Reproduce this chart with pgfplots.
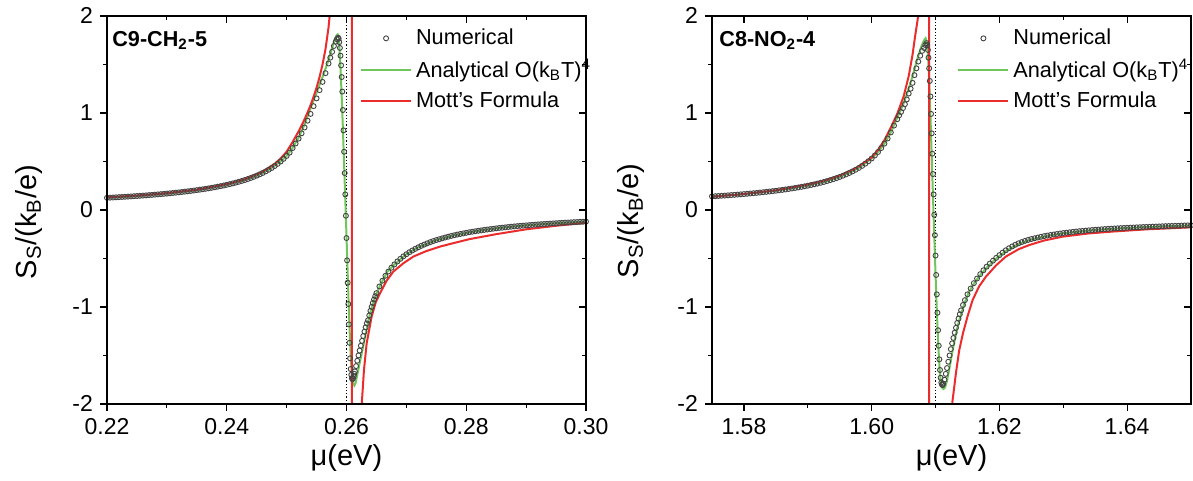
\documentclass[border=0pt]{standalone}
\usepackage{fontspec}
\setmainfont{Liberation Sans}
\usepackage{pgfplots}
\usepackage{pgfplotstable}
\pgfplotsset{compat=1.18}

\definecolor{numgray}{RGB}{68,68,68}
\definecolor{anagreen}{RGB}{112,198,92}
\definecolor{mottred}{RGB}{234,44,44}

% C9-CH2-5: numerical, analytical O(kT)^4, Mott
\pgfplotstableread[row sep=\\]{
x y\\
0.2200 0.1250\\ 0.2205 0.1266\\ 0.2210 0.1283\\ 0.2215 0.1300\\ 0.2220 0.1318\\
0.2225 0.1336\\ 0.2230 0.1355\\ 0.2235 0.1374\\ 0.2240 0.1394\\ 0.2245 0.1415\\
0.2250 0.1436\\ 0.2255 0.1457\\ 0.2260 0.1480\\ 0.2265 0.1502\\ 0.2270 0.1526\\
0.2275 0.1551\\ 0.2280 0.1576\\ 0.2285 0.1602\\ 0.2290 0.1629\\ 0.2295 0.1657\\
0.2300 0.1686\\ 0.2305 0.1716\\ 0.2310 0.1747\\ 0.2315 0.1779\\ 0.2320 0.1812\\
0.2325 0.1847\\ 0.2330 0.1883\\ 0.2335 0.1920\\ 0.2340 0.1959\\ 0.2345 0.2000\\
0.2350 0.2042\\ 0.2355 0.2086\\ 0.2360 0.2132\\ 0.2365 0.2180\\ 0.2370 0.2230\\
0.2375 0.2283\\ 0.2380 0.2338\\ 0.2385 0.2396\\ 0.2390 0.2457\\ 0.2395 0.2521\\
0.2400 0.2588\\ 0.2405 0.2659\\ 0.2410 0.2735\\ 0.2415 0.2814\\ 0.2420 0.2899\\
0.2425 0.2988\\ 0.2430 0.3084\\ 0.2435 0.3185\\ 0.2440 0.3294\\ 0.2445 0.3410\\
0.2450 0.3534\\ 0.2455 0.3668\\ 0.2460 0.3813\\ 0.2465 0.3970\\ 0.2470 0.4140\\
0.2475 0.4325\\ 0.2480 0.4527\\ 0.2485 0.4750\\ 0.2490 0.4995\\ 0.2495 0.5267\\
0.2500 0.5570\\ 0.2505 0.5911\\ 0.2510 0.6380\\ 0.2515 0.6850\\ 0.2520 0.7350\\
0.2525 0.7900\\ 0.2530 0.8500\\ 0.2535 0.9200\\ 0.2540 0.9900\\ 0.2545 1.0700\\
0.2550 1.1500\\ 0.2555 1.2350\\ 0.2560 1.3200\\ 0.2565 1.4100\\ 0.2570 1.5100\\
0.2573 1.5700\\ 0.2576 1.6300\\ 0.2579 1.6900\\ 0.2582 1.7350\\ 0.2584 1.7600\\
0.2586 1.7750\\ 0.2587 1.7650\\ 0.2588 1.7300\\ 0.2589 1.6700\\ 0.2590 1.5900\\
0.2591 1.4900\\ 0.2592 1.3700\\ 0.2593 1.2200\\ 0.2594 1.0300\\ 0.2595 0.8200\\
0.2596 0.6000\\ 0.2597 0.3800\\ 0.2598 0.1600\\ 0.2599 -0.0600\\ 0.2600 -0.2900\\
0.2601 -0.5200\\ 0.2602 -0.7500\\ 0.2603 -0.9700\\ 0.2604 -1.1800\\ 0.2605 -1.3700\\
0.2606 -1.5300\\ 0.2607 -1.6400\\ 0.2608 -1.7000\\ 0.2609 -1.7350\\ 0.2610 -1.7450\\
0.2611 -1.7350\\ 0.2612 -1.7150\\ 0.2613 -1.6900\\ 0.2614 -1.6650\\ 0.2616 -1.6100\\
0.2618 -1.5550\\ 0.2620 -1.5000\\ 0.2622 -1.4500\\ 0.2624 -1.4000\\ 0.2626 -1.3500\\
0.2628 -1.3000\\ 0.2630 -1.2550\\ 0.2632 -1.2100\\ 0.2634 -1.1700\\ 0.2636 -1.1380\\
0.2638 -1.0880\\ 0.2640 -1.0410\\ 0.2642 -0.9990\\ 0.2644 -0.9590\\ 0.2646 -0.9230\\
0.2648 -0.8890\\ 0.2650 -0.8580\\ 0.2655 -0.7890\\ 0.2660 -0.7300\\ 0.2665 -0.6790\\
0.2670 -0.6350\\ 0.2675 -0.5960\\ 0.2680 -0.5620\\ 0.2685 -0.5310\\ 0.2690 -0.5040\\
0.2695 -0.4790\\ 0.2700 -0.4570\\ 0.2705 -0.4360\\ 0.2710 -0.4180\\ 0.2715 -0.4010\\
0.2720 -0.3850\\ 0.2725 -0.3700\\ 0.2730 -0.3570\\ 0.2735 -0.3440\\ 0.2740 -0.3320\\
0.2745 -0.3210\\ 0.2750 -0.3110\\ 0.2755 -0.3020\\ 0.2760 -0.2930\\ 0.2765 -0.2840\\
0.2770 -0.2760\\ 0.2775 -0.2680\\ 0.2780 -0.2610\\ 0.2785 -0.2540\\ 0.2790 -0.2480\\
0.2795 -0.2420\\ 0.2800 -0.2360\\ 0.2805 -0.2300\\ 0.2810 -0.2250\\ 0.2815 -0.2200\\
0.2820 -0.2150\\ 0.2825 -0.2110\\ 0.2830 -0.2060\\ 0.2835 -0.2020\\ 0.2840 -0.1980\\
0.2845 -0.1940\\ 0.2850 -0.1900\\ 0.2855 -0.1860\\ 0.2860 -0.1830\\ 0.2865 -0.1800\\
0.2870 -0.1760\\ 0.2875 -0.1730\\ 0.2880 -0.1700\\ 0.2885 -0.1670\\ 0.2890 -0.1640\\
0.2895 -0.1620\\ 0.2900 -0.1590\\ 0.2905 -0.1570\\ 0.2910 -0.1540\\ 0.2915 -0.1520\\
0.2920 -0.1490\\ 0.2925 -0.1470\\ 0.2930 -0.1450\\ 0.2935 -0.1430\\ 0.2940 -0.1410\\
0.2945 -0.1390\\ 0.2950 -0.1370\\ 0.2955 -0.1350\\ 0.2960 -0.1330\\ 0.2965 -0.1310\\
0.2970 -0.1300\\ 0.2975 -0.1280\\ 0.2980 -0.1260\\ 0.2985 -0.1250\\ 0.2990 -0.1230\\
0.2995 -0.1220\\ 0.3000 -0.1200\\
}\numA

\pgfplotstableread[row sep=\\]{
x y\\
0.2200 0.125\\ 0.2250 0.1436\\ 0.2300 0.1686\\ 0.2350 0.2042\\ 0.2400 0.2588\\
0.2430 0.3084\\ 0.2450 0.3534\\ 0.2470 0.4140\\ 0.2490 0.4995\\ 0.2500 0.557\\
0.2510 0.640\\ 0.2520 0.745\\ 0.2530 0.88\\ 0.2540 1.05\\ 0.2550 1.21\\
0.2560 1.37\\ 0.2568 1.51\\ 0.2574 1.63\\ 0.2579 1.73\\ 0.2583 1.795\\
0.25853 1.81\\ 0.2587 1.78\\ 0.2588 1.70\\ 0.2590 1.46\\ 0.2592 1.17\\
0.2594 0.84\\ 0.2596 0.47\\ 0.25986 0.00\\ 0.2601 -0.46\\ 0.2603 -0.85\\
0.2605 -1.20\\ 0.2607 -1.50\\ 0.2609 -1.69\\ 0.2611 -1.785\\ 0.26131 -1.81\\
0.2615 -1.79\\ 0.2617 -1.73\\ 0.26197 -1.65\\ 0.2624 -1.52\\ 0.26281 -1.40\\
0.2633 -1.25\\ 0.26392 -1.07\\ 0.2646 -0.93\\ 0.2656 -0.78\\ 0.2668 -0.64\\
0.2680 -0.562\\ 0.2700 -0.457\\ 0.2720 -0.385\\ 0.2750 -0.311\\ 0.2780 -0.261\\
0.2820 -0.215\\ 0.2860 -0.183\\ 0.2900 -0.159\\ 0.2950 -0.137\\ 0.3000 -0.120\\
}\anaA

\pgfplotstableread[row sep=\\]{
x y\\
0.2200 0.130\\ 0.2250 0.148\\ 0.2300 0.173\\ 0.2350 0.209\\ 0.2400 0.266\\
0.2430 0.316\\ 0.2460 0.395\\ 0.2480 0.475\\ 0.2490 0.530\\ 0.2500 0.600\\
0.2510 0.700\\ 0.2520 0.810\\ 0.2525 0.870\\ 0.2530 0.935\\ 0.2535 1.005\\
0.2540 1.080\\ 0.2545 1.165\\ 0.2550 1.260\\ 0.2555 1.370\\ 0.2560 1.500\\
0.2565 1.660\\ 0.2570 1.880\\ 0.2575 2.200\\ 0.2580 2.700\\ 0.2590 3.800\\
0.2600 7.000\\ 0.2605 14.00\\ 0.26089 60.0\\ 0.26091 -60.0\\ 0.2612 -8.0\\
0.2618 -3.5\\ 0.26255 -2.00\\ 0.26292 -1.65\\ 0.26337 -1.375\\ 0.2642 -1.10\\
0.2649 -0.95\\ 0.2656 -0.859\\ 0.2667 -0.73\\ 0.26782 -0.636\\ 0.2695 -0.55\\
0.27116 -0.481\\ 0.2733 -0.425\\ 0.27562 -0.378\\ 0.2780 -0.340\\ 0.28063 -0.300\\
0.2850 -0.250\\ 0.2900 -0.200\\ 0.2950 -0.163\\ 0.3000 -0.133\\
}\mottA

% C8-NO2-4
\pgfplotstableread[row sep=\\]{
x y\\
1.5750 0.1397\\ 1.5755 0.1418\\ 1.5760 0.1439\\ 1.5765 0.1462\\ 1.5770 0.1484\\
1.5775 0.1508\\ 1.5780 0.1532\\ 1.5785 0.1558\\ 1.5790 0.1584\\ 1.5795 0.1611\\
1.5800 0.1638\\ 1.5805 0.1667\\ 1.5810 0.1697\\ 1.5815 0.1728\\ 1.5820 0.1760\\
1.5825 0.1793\\ 1.5830 0.1828\\ 1.5835 0.1864\\ 1.5840 0.1901\\ 1.5845 0.1940\\
1.5850 0.1981\\ 1.5855 0.2023\\ 1.5860 0.2067\\ 1.5865 0.2113\\ 1.5870 0.2161\\
1.5875 0.2212\\ 1.5880 0.2265\\ 1.5885 0.2320\\ 1.5890 0.2378\\ 1.5895 0.2440\\
1.5900 0.2504\\ 1.5905 0.2572\\ 1.5910 0.2644\\ 1.5915 0.2719\\ 1.5920 0.2800\\
1.5925 0.2885\\ 1.5930 0.2976\\ 1.5935 0.3072\\ 1.5940 0.3175\\ 1.5945 0.3285\\
1.5950 0.3403\\ 1.5955 0.3529\\ 1.5960 0.3666\\ 1.5965 0.3813\\ 1.5970 0.3973\\
1.5975 0.4147\\ 1.5980 0.4337\\ 1.5985 0.4545\\ 1.5990 0.4773\\ 1.5995 0.5027\\
1.6000 0.5308\\ 1.6005 0.5623\\ 1.6010 0.5977\\ 1.6015 0.6380\\ 1.6020 0.6840\\
1.6025 0.7372\\ 1.6030 0.7993\\ 1.6035 0.8700\\ 1.6040 0.9350\\ 1.6043 0.9750\\
1.6046 1.0100\\ 1.6049 1.0500\\ 1.6052 1.0900\\ 1.6055 1.1400\\ 1.6058 1.2000\\
1.6061 1.2500\\ 1.6064 1.3100\\ 1.6067 1.3900\\ 1.6070 1.4600\\ 1.6073 1.5300\\
1.6076 1.5900\\ 1.6079 1.6400\\ 1.6082 1.6700\\ 1.6084 1.7000\\ 1.6086 1.7200\\
1.6087 1.7000\\ 1.6088 1.6500\\ 1.6089 1.5700\\ 1.6090 1.4600\\ 1.6091 1.3300\\
1.6092 1.1700\\ 1.6093 0.9900\\ 1.6094 0.7900\\ 1.6095 0.5800\\ 1.6096 0.3700\\
1.6097 0.1600\\ 1.6098 -0.0500\\ 1.6099 -0.2600\\ 1.6100 -0.4700\\ 1.6101 -0.6700\\
1.6102 -0.8700\\ 1.6103 -1.0600\\ 1.6104 -1.2400\\ 1.6105 -1.4000\\ 1.6106 -1.5400\\
1.6107 -1.6500\\ 1.6108 -1.7300\\ 1.6109 -1.7800\\ 1.6110 -1.8000\\ 1.6111 -1.8050\\
1.6112 -1.7900\\ 1.6114 -1.7500\\ 1.6116 -1.6900\\ 1.6118 -1.6300\\ 1.6120 -1.5650\\
1.6122 -1.5000\\ 1.6124 -1.4350\\ 1.6126 -1.3750\\ 1.6128 -1.3200\\ 1.6130 -1.2650\\
1.6132 -1.2150\\ 1.6134 -1.1650\\ 1.6136 -1.1200\\ 1.6138 -1.0750\\ 1.6140 -1.0350\\
1.6143 -0.9800\\ 1.6146 -0.9300\\ 1.6150 -0.8700\\ 1.6155 -0.8100\\ 1.6160 -0.7550\\
1.6165 -0.7070\\ 1.6170 -0.6620\\ 1.6175 -0.6220\\ 1.6180 -0.5850\\ 1.6185 -0.5530\\
1.6190 -0.5230\\ 1.6195 -0.4940\\ 1.6200 -0.4660\\ 1.6205 -0.4400\\ 1.6210 -0.4160\\
1.6215 -0.3950\\ 1.6220 -0.3760\\ 1.6225 -0.3590\\ 1.6230 -0.3440\\ 1.6235 -0.3310\\
1.6240 -0.3190\\ 1.6245 -0.3090\\ 1.6250 -0.3000\\ 1.6255 -0.2920\\ 1.6260 -0.2840\\
1.6265 -0.2770\\ 1.6270 -0.2700\\ 1.6275 -0.2640\\ 1.6280 -0.2580\\ 1.6285 -0.2530\\
1.6290 -0.2480\\ 1.6295 -0.2430\\ 1.6300 -0.2380\\ 1.6305 -0.2340\\ 1.6310 -0.2300\\
1.6315 -0.2260\\ 1.6320 -0.2220\\ 1.6325 -0.2190\\ 1.6330 -0.2160\\ 1.6335 -0.2130\\
1.6340 -0.2100\\ 1.6345 -0.2070\\ 1.6350 -0.2040\\ 1.6355 -0.2020\\ 1.6360 -0.1990\\
1.6365 -0.1970\\ 1.6370 -0.1950\\ 1.6375 -0.1930\\ 1.6380 -0.1910\\ 1.6385 -0.1890\\
1.6390 -0.1870\\ 1.6395 -0.1860\\ 1.6400 -0.1840\\ 1.6405 -0.1820\\ 1.6410 -0.1810\\
1.6415 -0.1790\\ 1.6420 -0.1780\\ 1.6425 -0.1760\\ 1.6430 -0.1750\\ 1.6435 -0.1740\\
1.6440 -0.1720\\ 1.6445 -0.1710\\ 1.6450 -0.1700\\ 1.6455 -0.1680\\ 1.6460 -0.1670\\
1.6465 -0.1660\\ 1.6470 -0.1650\\ 1.6475 -0.1640\\ 1.6480 -0.1630\\ 1.6485 -0.1610\\
1.6490 -0.1600\\ 1.6495 -0.1590\\ 1.6500 -0.1580\\
}\numB

\pgfplotstableread[row sep=\\]{
x y\\
1.5750 0.1397\\ 1.5800 0.1638\\ 1.5850 0.1981\\ 1.5900 0.2504\\ 1.5930 0.2976\\
1.5960 0.3666\\ 1.5980 0.4337\\ 1.6000 0.5308\\ 1.6010 0.5977\\ 1.6020 0.684\\
1.6030 0.80\\ 1.6040 0.95\\ 1.6050 1.10\\ 1.6058 1.25\\ 1.6065 1.40\\
1.6072 1.57\\ 1.6078 1.69\\ 1.6082 1.75\\ 1.60844 1.77\\ 1.6086 1.74\\
1.6088 1.62\\ 1.6090 1.35\\ 1.6092 0.98\\ 1.6094 0.56\\ 1.6096 0.14\\
1.6098 -0.26\\ 1.6100 -0.66\\ 1.6102 -1.03\\ 1.6104 -1.36\\ 1.6106 -1.60\\
1.6108 -1.76\\ 1.6110 -1.83\\ 1.61125 -1.845\\ 1.6115 -1.83\\ 1.6118 -1.76\\
1.6121 -1.66\\ 1.6124 -1.55\\ 1.6127 -1.44\\ 1.6131 -1.31\\ 1.6135 -1.19\\
1.6140 -1.07\\ 1.6146 -0.95\\ 1.6152 -0.85\\ 1.6160 -0.76\\ 1.6170 -0.67\\
1.6180 -0.595\\ 1.6195 -0.50\\ 1.6210 -0.425\\ 1.6230 -0.35\\ 1.6250 -0.305\\
1.6280 -0.262\\ 1.6300 -0.240\\ 1.6350 -0.206\\ 1.6400 -0.186\\ 1.6450 -0.171\\
1.6500 -0.159\\
}\anaB

\pgfplotstableread[row sep=\\]{
x y\\
1.5750 0.135\\ 1.5800 0.165\\ 1.5850 0.203\\ 1.5900 0.262\\ 1.5925 0.300\\
1.5950 0.355\\ 1.5975 0.430\\ 1.6000 0.540\\ 1.6010 0.620\\ 1.6020 0.720\\
1.6030 0.850\\ 1.6040 0.990\\ 1.6050 1.170\\ 1.6058 1.380\\ 1.6064 1.600\\
1.6068 1.790\\ 1.6074 2.050\\ 1.6080 2.700\\ 1.6085 3.800\\ 1.6088 6.000\\
1.60895 40.0\\ 1.60905 -40.0\\ 1.6095 -8.0\\ 1.6105 -3.8\\ 1.6115 -2.6\\
1.6126 -2.0\\ 1.6132 -1.68\\ 1.6137 -1.45\\ 1.6143 -1.27\\ 1.6150 -1.10\\
1.6158 -0.93\\ 1.6168 -0.79\\ 1.6179 -0.687\\ 1.6195 -0.570\\ 1.6210 -0.481\\
1.6230 -0.405\\ 1.6247 -0.361\\ 1.6270 -0.315\\ 1.6299 -0.275\\ 1.6340 -0.242\\
1.6377 -0.223\\ 1.6430 -0.200\\ 1.6500 -0.179\\
}\mottB

\pgfplotsset{
  panel/.style={
    scale only axis, width=239.5pt, height=194pt,
    ymin=-2, ymax=2,
    ytick={-2,-1,0,1,2},
    minor x tick num=1, minor y tick num=1,
    major tick length=3.5pt, minor tick length=2pt,
    tick style={black, line width=0.6pt},
    axis line style={line width=0.7pt},
  },
  main/.style={
    panel,
    yticklabels={-2,-1,0,1,2},
    tick align=outside, tick pos=left,
    tick label style={font=\fontsize{11.5}{13}\selectfont},
    label style={font=\fontsize{14.5}{17}\selectfont},
    xlabel={μ(eV)},
    ylabel={S\textsubscript{S}/(k\textsubscript{B}/e)},
    xlabel style={at={(axis description cs:0.5,-0.140)}, anchor=center},
    legend style={draw=none, fill=none, anchor=north west,
      font=\fontsize{10.85}{12}\selectfont, row sep=1.6pt},
    legend cell align=left,
  },
  mirror/.style={
    panel, xticklabels={}, yticklabels={},
    tick align=inside, tick pos=right,
  },
  numst/.style={only marks, mark=o, mark size=1.25pt, color=numgray,
    mark options={line width=0.45pt},
    legend image code/.code={\draw[##1] plot coordinates {(12.5pt,0pt)};}},
  linest/.style={line width=1pt,
    legend image code/.code={\draw[##1] (0pt,0pt) -- (25pt,0pt);}},
}

\begin{document}
\begin{tikzpicture}
\useasboundingbox (-53.5pt,-38.5pt) rectangle (543pt,202pt);

\begin{axis}[main, at={(0pt,0pt)}, anchor=south west,
  xmin=0.22, xmax=0.30,
  xtick={0.22,0.24,0.26,0.28,0.30},
  xticklabels={0.22,0.24,0.26,0.28,0.30},
  ylabel style={at={(axis description cs:-0.163,0.469)}, anchor=center},
  legend style={at={(axis description cs:0.515,0.988)}}]
\addplot[black, densely dotted, line width=0.6pt, forget plot] coordinates {(0.26,-2) (0.26,2)};
\addplot[numst] table {\numA};
\addlegendentry{Numerical}
\addplot[linest, anagreen] table {\anaA};
\addlegendentry{Analytical O(k\textsubscript{B}T)\textsuperscript{4}}
\addplot[linest, mottred] table {\mottA};
\addlegendentry{Mott's Formula}
\node[anchor=north west, inner sep=0pt, font=\bfseries\fontsize{10.8}{12}\selectfont,
  xshift=2.5pt, yshift=-7.5pt] at (rel axis cs:0,1) {C9-CH\textsubscript{2}-5};
\end{axis}
\begin{axis}[mirror, at={(0pt,0pt)}, anchor=south west,
  xmin=0.22, xmax=0.30, xtick={0.22,0.24,0.26,0.28,0.30}]
\end{axis}

\begin{axis}[main, at={(302.5pt,0pt)}, anchor=south west,
  xmin=1.575, xmax=1.65,
  xtick={1.58,1.60,1.62,1.64},
  xticklabels={1.58,1.60,1.62,1.64},
  ylabel style={at={(axis description cs:-0.169,0.472)}, anchor=center},
  legend style={at={(axis description cs:0.499,0.988)}}]
\addplot[black, densely dotted, line width=0.6pt, forget plot] coordinates {(1.61,-2) (1.61,2)};
\addplot[numst] table {\numB};
\addlegendentry{Numerical}
\addplot[linest, anagreen] table {\anaB};
\addlegendentry{Analytical O(k\textsubscript{B}T)\textsuperscript{4}}
\addplot[linest, mottred] table {\mottB};
\addlegendentry{Mott's Formula}
\node[anchor=north west, inner sep=0pt, font=\bfseries\fontsize{10.8}{12}\selectfont,
  xshift=3.5pt, yshift=-7.5pt] at (rel axis cs:0,1) {C8-NO\textsubscript{2}-4};
\end{axis}
\begin{axis}[mirror, at={(302.5pt,0pt)}, anchor=south west,
  xmin=1.575, xmax=1.65, xtick={1.58,1.60,1.62,1.64}]
\end{axis}
\end{tikzpicture}
\end{document}
